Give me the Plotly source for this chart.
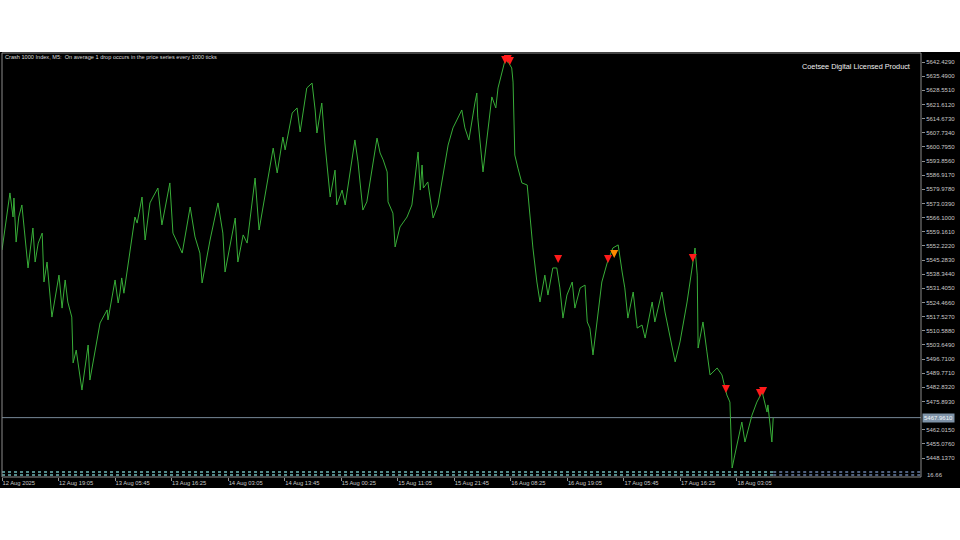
import plotly.graph_objects as go

# ---- data (bar index on M5, price) ----
bars = [0, 18, 25, 27, 32, 38, 45, 50, 59, 70, 75, 82, 91, 95, 102, 113, 129, 136, 143, 149,
        158, 161, 168, 181, 195, 199, 222, 238, 240, 256, 263, 267, 271, 276,
        301, 306, 317, 324, 335, 342, 353, 362, 380, 387, 408, 426, 437, 448, 453, 471,
        489, 500, 505, 528, 534, 546, 555, 573, 582, 614, 623, 636, 641, 657, 668, 675,
        690, 702, 709, 713, 724, 731, 743, 754, 758, 770, 777, 799, 806, 817, 826, 849,
        856, 863, 872, 874, 885, 890, 901, 917, 928, 942, 947, 951, 954, 964, 976, 987,
        1003, 1010, 1021, 1032, 1041, 1048, 1057, 1071, 1075, 1077, 1087, 1089, 1109, 1118,
        1123, 1132, 1139, 1146, 1154, 1157, 1161, 1168, 1177, 1189, 1195, 1202, 1211, 1218,
        1229, 1236, 1247, 1256, 1263, 1270, 1279, 1291, 1297, 1309, 1320, 1325, 1331, 1338,
        1358, 1370, 1383, 1395, 1404, 1410, 1417, 1429, 1438, 1449, 1456, 1472, 1478, 1494,
        1501, 1508, 1524, 1535, 1551, 1569, 1574, 1576, 1587, 1596, 1603, 1619, 1630, 1637,
        1641, 1648, 1653, 1659, 1675, 1682, 1698, 1709, 1721, 1732, 1734, 1743, 1746]
prices = [5550.2, 5578.2, 5566.4, 5575.7, 5554.1, 5566.4, 5572.3, 5560.0, 5541.4, 5561.0,
          5544.3, 5553.6, 5558.5, 5534.5, 5544.3, 5517.3, 5537.9, 5521.7, 5535.5, 5524.7,
          5517.3, 5494.8, 5501.1, 5481.5, 5503.6, 5486.4, 5514.4, 5520.8, 5515.9, 5535.5,
          5524.2, 5529.1, 5536.5, 5529.0,
          5566.4, 5563.4, 5576.2, 5555.1, 5573.3, 5576.2, 5580.6, 5562.5, 5583.1, 5558.5,
          5548.7, 5571.3, 5556.6, 5548.7, 5534.0, 5555.1, 5573.3, 5558.5, 5539.4, 5565.9,
          5544.3, 5557.6, 5553.6, 5585.5, 5560.0, 5600.2, 5588.0, 5605.6, 5599.3, 5617.4,
          5619.9, 5608.1, 5629.7, 5632.1, 5618.9, 5607.6, 5622.3, 5602.7, 5576.2, 5589.4,
          5572.3, 5579.6, 5572.3, 5604.2, 5593.4, 5569.8, 5573.8, 5605.1, 5597.8, 5594.4,
          5588.5, 5573.8, 5568.3, 5551.7, 5561.5, 5566.4, 5572.3, 5598.3, 5579.6, 5591.9,
          5580.6, 5583.6, 5565.9, 5572.3, 5591.9, 5601.7, 5610.1, 5615.0, 5618.9, 5610.1,
          5604.2, 5622.8, 5627.2, 5615.4, 5593.4, 5588.5, 5625.3, 5619.9, 5629.7, 5637.5,
          5643.4, 5642.4, 5639.5, 5632.6, 5596.8, 5590.4, 5583.1, 5582.1, 5565.9, 5551.2,
          5534.5, 5524.7, 5537.9, 5528.1, 5541.4, 5541.4, 5531.6, 5516.8, 5528.1, 5534.5,
          5521.7, 5531.6, 5533.0, 5514.9, 5511.9, 5498.7, 5534.5, 5543.8, 5551.2, 5552.7,
          5539.4, 5531.6, 5516.8, 5529.6, 5511.9, 5513.4, 5507.0, 5524.7, 5514.9, 5529.6,
          5519.8, 5511.9, 5495.3, 5505.1, 5524.7, 5551.2, 5537.9, 5502.1, 5514.9, 5500.2,
          5488.9, 5492.3, 5488.9, 5482.5, 5479.1, 5475.6, 5443.2, 5449.6, 5465.8, 5456.0,
          5469.2, 5475.6, 5480.5, 5470.7, 5474.2, 5456.0, 5467.96]

# drop signal arrows
arrow_bars = [1139, 1145, 1150, 1259, 1372, 1386, 1564, 1639, 1716, 1723]
arrow_prices = [5641.4, 5641.9, 5641.0, 5543.8, 5543.8, 5546.3, 5544.3, 5480.0, 5478.1, 5479.1]
arrow_colors = ['#ff1a1a', '#ff1a1a', '#ff1a1a', '#ff1a1a', '#ff1a1a', '#ff8a00',
                '#ff1a1a', '#ff1a1a', '#ff1a1a', '#ff1a1a']

current_price = 5467.961
current_label = "5467.9610"

y_tickvals = [5642.4290, 5635.4900, 5628.5510, 5621.6120, 5614.6730, 5607.7340, 5600.7950,
              5593.8560, 5586.9170, 5579.9780, 5573.0390, 5566.1000, 5559.1610, 5552.2220,
              5545.2830, 5538.3440, 5531.4050, 5524.4660, 5517.5270, 5510.5880, 5503.6490,
              5496.7100, 5489.7710, 5482.8320, 5475.8930, 5462.0150, 5455.0760, 5448.1370]
y_ticktext = ["%.4f" % v for v in y_tickvals]

x_tickvals = [0, 128, 256, 384, 512, 640, 768, 896, 1024, 1152, 1280, 1408, 1536, 1664]
x_ticktext = ["12 Aug 2025", "12 Aug 19:05", "13 Aug 05:45", "13 Aug 16:25", "14 Aug 03:05",
              "14 Aug 13:45", "15 Aug 00:25", "15 Aug 11:05", "15 Aug 21:45", "16 Aug 08:25",
              "16 Aug 19:05", "17 Aug 05:45", "17 Aug 16:25", "18 Aug 03:05"]

sub_x_active = [0, 1746]
sub_x_future = [1746, 2080]
sub_levels = [0.2, 0.8]

title_text = "Crash 1000 Index, M5:  On average 1 drop occurs in the price series every 1000 ticks"
brand_text = "Coetsee Digital Licensed Product"
sub_label = "16.66"

FONT = "Liberation Sans"
AXC = "#c8c8c8"

fig = go.Figure()
fig.add_trace(go.Scatter(x=bars, y=prices, mode='lines',
                         line=dict(color='#38ad38', width=1), hoverinfo='skip'))
fig.add_trace(go.Scatter(x=arrow_bars, y=arrow_prices, mode='markers',
                         marker=dict(symbol='arrow-down', size=8, color=arrow_colors,
                                     line=dict(width=0)),
                         hoverinfo='skip'))
for lv in sub_levels:
    fig.add_trace(go.Scatter(x=sub_x_active, y=[lv, lv], xaxis='x', yaxis='y2', mode='lines',
                             line=dict(color='#6fb8b8', width=1.5, dash='dot'), hoverinfo='skip'))
    fig.add_trace(go.Scatter(x=sub_x_future, y=[lv, lv], xaxis='x', yaxis='y2', mode='lines',
                             line=dict(color='#6a80a8', width=1.5, dash='dot'), hoverinfo='skip'))

fig.update_layout(
    width=960, height=540,
    paper_bgcolor='white', plot_bgcolor='black',
    margin=dict(l=2, r=39, t=53, b=63),
    showlegend=False,
    xaxis=dict(range=[0, 2080.6], tickvals=x_tickvals, ticktext=x_ticktext,
               ticks='outside', ticklen=3, tickcolor='#909090',
               ticklabelposition='outside right',
               tickfont=dict(family=FONT, size=5.8, color=AXC),
               showgrid=False, zeroline=False, showline=False, anchor='y2'),
    yaxis=dict(domain=[0.0212, 1], range=[5443.25, 5646.85], side='right',
               tickvals=y_tickvals, ticktext=y_ticktext,
               ticks='outside', ticklen=3, tickcolor='#909090',
               tickfont=dict(family=FONT, size=6, color=AXC),
               showgrid=False, zeroline=False, showline=False),
    yaxis2=dict(domain=[0, 0.0165], range=[-0.2, 1.2], showticklabels=False,
                showgrid=False, zeroline=False, showline=False),
    shapes=[
        dict(type='rect', xref='paper', yref='paper', x0=-0.0025, x1=1.0425, y0=-0.026, y1=1.0024,
             fillcolor='black', line=dict(width=0), layer='below'),
        dict(type='rect', xref='paper', yref='paper', x0=0, x1=1, y0=0, y1=1,
             line=dict(color='#8c8c8c', width=1), layer='above'),
        dict(type='line', xref='paper', yref='y', x0=0, x1=1, y0=current_price, y1=current_price,
             line=dict(color='#778899', width=1), layer='below'),
    ],
    annotations=[
        dict(text=title_text, xref='paper', yref='paper', x=0.001, y=0.9906,
             xanchor='left', yanchor='middle', showarrow=False,
             font=dict(family=FONT, size=5.6, color='#d8d8d8')),
        dict(text=brand_text, xref='paper', yref='paper', x=0.9902, y=0.9693,
             xanchor='right', yanchor='middle', showarrow=False,
             font=dict(family=FONT, size=7.3, color='#f0f0f0')),
        dict(text=current_label, xref='paper', yref='y', x=1.001, y=current_price,
             xanchor='left', yanchor='middle', showarrow=False, bgcolor='#7f93a8',
             borderpad=1, font=dict(family=FONT, size=6, color='#f4f6fa')),
        dict(text=sub_label, xref='paper', yref='paper', x=1.004, y=0.005,
             xanchor='left', yanchor='middle', showarrow=False,
             font=dict(family=FONT, size=6, color=AXC)),
    ],
)

fig.write_html("out.html", config={'displayModeBar': False},
               post_script="document.body.style.margin='0';")
